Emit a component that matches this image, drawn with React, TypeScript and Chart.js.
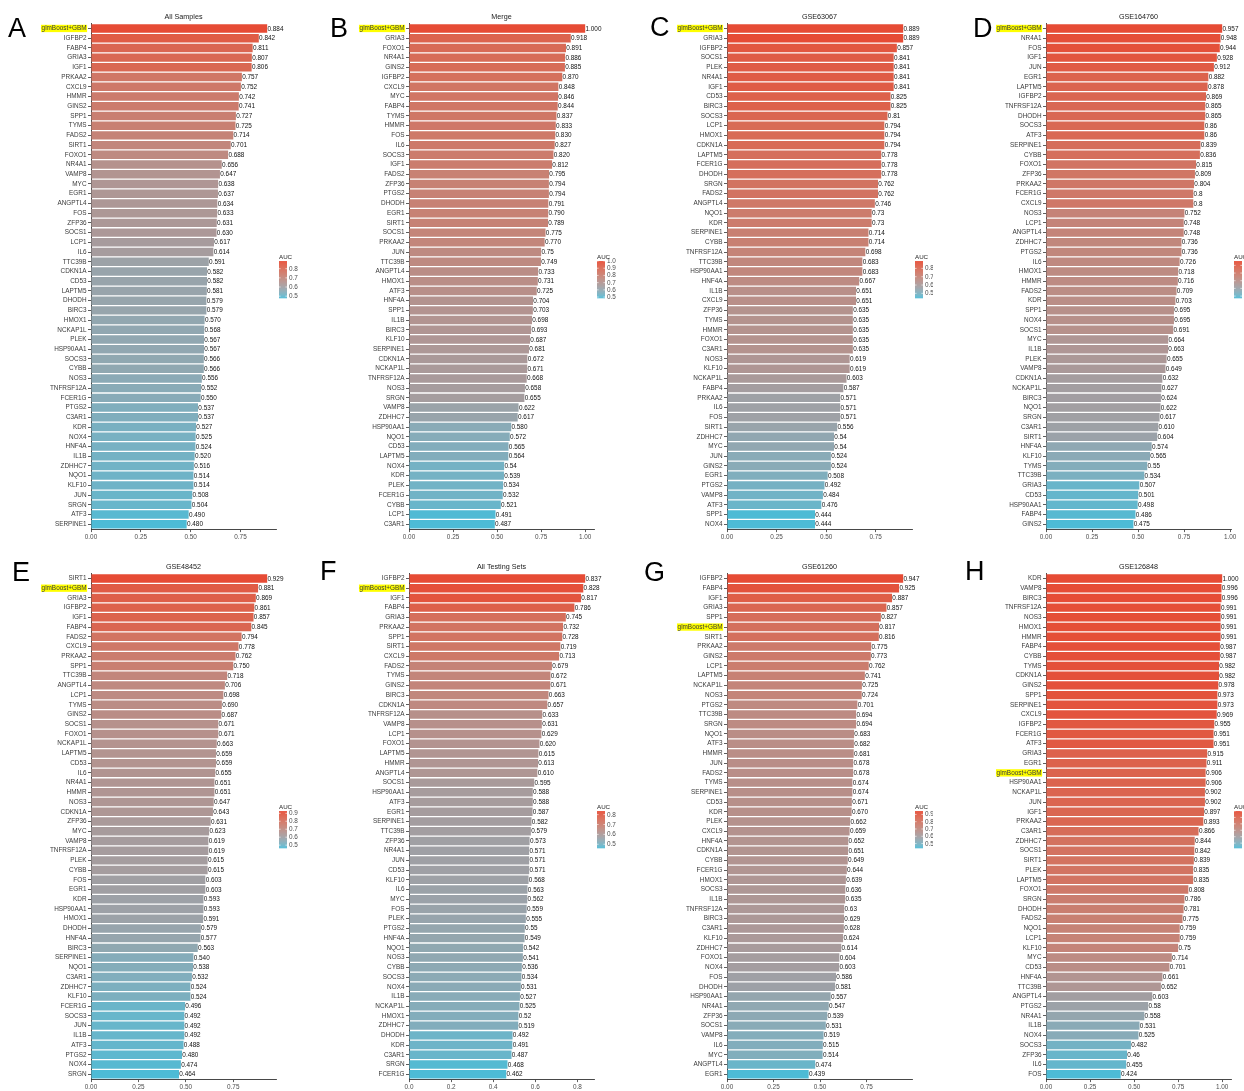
import React, { useEffect, useRef } from 'react';
import { Chart, registerables } from 'chart.js';

Chart.register(...registerables);

const FONT = "'Liberation Sans', Arial, Helvetica, sans-serif";
const HIGHLIGHT = 'glmBoost+GBM';
const LOW_COLOR = '#4DBBD5';
const HIGH_COLOR = '#E64B35';

// ---------- Panel A: All Samples ----------
const genesA = ['glmBoost+GBM','IGFBP2','FABP4','GRIA3','IGF1','PRKAA2','CXCL9','HMMR','GINS2','SPP1','TYMS','FADS2','SIRT1','FOXO1','NR4A1','VAMP8','MYC','EGR1','ANGPTL4','FOS','ZFP36','SOCS1','LCP1','IL6','TTC39B','CDKN1A','CD53','LAPTM5','DHODH','BIRC3','HMOX1','NCKAP1L','PLEK','HSP90AA1','SOCS3','CYBB','NOS3','TNFRSF12A','FCER1G','PTGS2','C3AR1','KDR','NOX4','HNF4A','IL1B','ZDHHC7','NQO1','KLF10','JUN','SRGN','ATF3','SERPINE1'];
const aucA = ['0.884','0.842','0.811','0.807','0.806','0.757','0.752','0.742','0.741','0.727','0.725','0.714','0.701','0.688','0.656','0.647','0.638','0.637','0.634','0.633','0.631','0.630','0.617','0.614','0.591','0.582','0.582','0.581','0.579','0.579','0.570','0.568','0.567','0.567','0.566','0.566','0.556','0.552','0.550','0.537','0.537','0.527','0.525','0.524','0.520','0.516','0.514','0.514','0.508','0.504','0.490','0.480'];

// ---------- Panel B: Merge ----------
const genesB = ['glmBoost+GBM','GRIA3','FOXO1','NR4A1','GINS2','IGFBP2','CXCL9','MYC','FABP4','TYMS','HMMR','FOS','IL6','SOCS3','IGF1','FADS2','ZFP36','PTGS2','DHODH','EGR1','SIRT1','SOCS1','PRKAA2','JUN','TTC39B','ANGPTL4','HMOX1','ATF3','HNF4A','SPP1','IL1B','BIRC3','KLF10','SERPINE1','CDKN1A','NCKAP1L','TNFRSF12A','NOS3','SRGN','VAMP8','ZDHHC7','HSP90AA1','NQO1','CD53','LAPTM5','NOX4','KDR','PLEK','FCER1G','CYBB','LCP1','C3AR1'];
const aucB = ['1.000','0.918','0.891','0.886','0.885','0.870','0.848','0.846','0.844','0.837','0.833','0.830','0.827','0.820','0.812','0.795','0.794','0.794','0.791','0.790','0.789','0.775','0.770','0.75','0.749','0.733','0.731','0.725','0.704','0.703','0.698','0.693','0.687','0.681','0.672','0.671','0.668','0.658','0.655','0.622','0.617','0.580','0.572','0.565','0.564','0.54','0.539','0.534','0.532','0.521','0.491','0.487'];

// ---------- Panel C: GSE63067 ----------
const genesC = ['glmBoost+GBM','GRIA3','IGFBP2','SOCS1','PLEK','NR4A1','IGF1','CD53','BIRC3','SOCS3','LCP1','HMOX1','CDKN1A','LAPTM5','FCER1G','DHODH','SRGN','FADS2','ANGPTL4','NQO1','KDR','SERPINE1','CYBB','TNFRSF12A','TTC39B','HSP90AA1','HNF4A','IL1B','CXCL9','ZFP36','TYMS','HMMR','FOXO1','C3AR1','NOS3','KLF10','NCKAP1L','FABP4','PRKAA2','IL6','FOS','SIRT1','ZDHHC7','MYC','JUN','GINS2','EGR1','PTGS2','VAMP8','ATF3','SPP1','NOX4'];
const aucC = ['0.889','0.889','0.857','0.841','0.841','0.841','0.841','0.825','0.825','0.81','0.794','0.794','0.794','0.778','0.778','0.778','0.762','0.762','0.746','0.73','0.73','0.714','0.714','0.698','0.683','0.683','0.667','0.651','0.651','0.635','0.635','0.635','0.635','0.635','0.619','0.619','0.603','0.587','0.571','0.571','0.571','0.556','0.54','0.54','0.524','0.524','0.508','0.492','0.484','0.476','0.444','0.444'];

// ---------- Panel D: GSE164760 ----------
const genesD = ['glmBoost+GBM','NR4A1','FOS','IGF1','JUN','EGR1','LAPTM5','IGFBP2','TNFRSF12A','DHODH','SOCS3','ATF3','SERPINE1','CYBB','FOXO1','ZFP36','PRKAA2','FCER1G','CXCL9','NOS3','LCP1','ANGPTL4','ZDHHC7','PTGS2','IL6','HMOX1','HMMR','FADS2','KDR','SPP1','NOX4','SOCS1','MYC','IL1B','PLEK','VAMP8','CDKN1A','NCKAP1L','BIRC3','NQO1','SRGN','C3AR1','SIRT1','HNF4A','KLF10','TYMS','TTC39B','GRIA3','CD53','HSP90AA1','FABP4','GINS2'];
const aucD = ['0.957','0.948','0.944','0.928','0.912','0.882','0.878','0.869','0.865','0.865','0.86','0.86','0.839','0.836','0.815','0.809','0.804','0.8','0.8','0.752','0.748','0.748','0.736','0.736','0.726','0.718','0.716','0.709','0.703','0.695','0.695','0.691','0.664','0.663','0.655','0.649','0.632','0.627','0.624','0.622','0.617','0.610','0.604','0.574','0.565','0.55','0.534','0.507','0.501','0.498','0.486','0.475'];

// ---------- Panel E: GSE48452 ----------
const genesE = ['SIRT1','glmBoost+GBM','GRIA3','IGFBP2','IGF1','FABP4','FADS2','CXCL9','PRKAA2','SPP1','TTC39B','ANGPTL4','LCP1','TYMS','GINS2','SOCS1','FOXO1','NCKAP1L','LAPTM5','CD53','IL6','NR4A1','HMMR','NOS3','CDKN1A','ZFP36','MYC','VAMP8','TNFRSF12A','PLEK','CYBB','FOS','EGR1','KDR','HSP90AA1','HMOX1','DHODH','HNF4A','BIRC3','SERPINE1','NQO1','C3AR1','ZDHHC7','KLF10','FCER1G','SOCS3','JUN','IL1B','ATF3','PTGS2','NOX4','SRGN'];
const aucE = ['0.929','0.881','0.869','0.861','0.857','0.845','0.794','0.778','0.762','0.750','0.718','0.706','0.698','0.690','0.687','0.671','0.671','0.663','0.659','0.659','0.655','0.651','0.651','0.647','0.643','0.631','0.623','0.619','0.619','0.615','0.615','0.603','0.603','0.593','0.593','0.591','0.579','0.577','0.563','0.540','0.538','0.532','0.524','0.524','0.496','0.492','0.492','0.492','0.488','0.480','0.474','0.464'];

// ---------- Panel F: All Testing Sets ----------
const genesF = ['IGFBP2','glmBoost+GBM','IGF1','FABP4','GRIA3','PRKAA2','SPP1','SIRT1','CXCL9','FADS2','TYMS','GINS2','BIRC3','CDKN1A','TNFRSF12A','VAMP8','LCP1','FOXO1','LAPTM5','HMMR','ANGPTL4','SOCS1','HSP90AA1','ATF3','EGR1','SERPINE1','TTC39B','ZFP36','NR4A1','JUN','CD53','KLF10','IL6','MYC','FOS','PLEK','PTGS2','HNF4A','NQO1','NOS3','CYBB','SOCS3','NOX4','IL1B','NCKAP1L','HMOX1','ZDHHC7','DHODH','KDR','C3AR1','SRGN','FCER1G'];
const aucF = ['0.837','0.828','0.817','0.786','0.745','0.732','0.728','0.719','0.713','0.679','0.672','0.671','0.663','0.657','0.633','0.631','0.629','0.620','0.615','0.613','0.610','0.595','0.588','0.588','0.587','0.582','0.579','0.573','0.571','0.571','0.571','0.568','0.563','0.562','0.559','0.555','0.55','0.549','0.542','0.541','0.536','0.534','0.531','0.527','0.525','0.52','0.519','0.492','0.491','0.487','0.468','0.462'];

// ---------- Panel G: GSE61260 ----------
const genesG = ['IGFBP2','FABP4','IGF1','GRIA3','SPP1','glmBoost+GBM','SIRT1','PRKAA2','GINS2','LCP1','LAPTM5','NCKAP1L','NOS3','PTGS2','TTC39B','SRGN','NQO1','ATF3','HMMR','JUN','FADS2','TYMS','SERPINE1','CD53','KDR','PLEK','CXCL9','HNF4A','CDKN1A','CYBB','FCER1G','HMOX1','SOCS3','IL1B','TNFRSF12A','BIRC3','C3AR1','KLF10','ZDHHC7','FOXO1','NOX4','FOS','DHODH','HSP90AA1','NR4A1','ZFP36','SOCS1','VAMP8','IL6','MYC','ANGPTL4','EGR1'];
const aucG = ['0.947','0.925','0.887','0.857','0.827','0.817','0.816','0.775','0.773','0.762','0.741','0.725','0.724','0.701','0.694','0.694','0.683','0.682','0.681','0.678','0.678','0.674','0.674','0.671','0.670','0.662','0.659','0.652','0.651','0.649','0.644','0.639','0.636','0.635','0.63','0.629','0.628','0.624','0.614','0.604','0.603','0.586','0.581','0.557','0.547','0.539','0.531','0.519','0.515','0.514','0.474','0.439'];

// ---------- Panel H: GSE126848 ----------
const genesH = ['KDR','VAMP8','BIRC3','TNFRSF12A','NOS3','HMOX1','HMMR','FABP4','CYBB','TYMS','CDKN1A','GINS2','SPP1','SERPINE1','CXCL9','IGFBP2','FCER1G','ATF3','GRIA3','EGR1','glmBoost+GBM','HSP90AA1','NCKAP1L','JUN','IGF1','PRKAA2','C3AR1','ZDHHC7','SOCS1','SIRT1','PLEK','LAPTM5','FOXO1','SRGN','DHODH','FADS2','NQO1','LCP1','KLF10','MYC','CD53','HNF4A','TTC39B','ANGPTL4','PTGS2','NR4A1','IL1B','NOX4','SOCS3','ZFP36','IL6','FOS'];
const aucH = ['1.000','0.996','0.996','0.991','0.991','0.991','0.991','0.987','0.987','0.982','0.982','0.978','0.973','0.973','0.969','0.955','0.951','0.951','0.915','0.911','0.906','0.906','0.902','0.902','0.897','0.893','0.866','0.844','0.842','0.839','0.835','0.835','0.808','0.786','0.781','0.775','0.759','0.759','0.75','0.714','0.701','0.661','0.652','0.603','0.58','0.558','0.531','0.525','0.482','0.46','0.455','0.424'];

// ---------- Axis ticks & legend breaks ----------
const xTicksQuarter = [0, 0.25, 0.5, 0.75];
const xTicksQuarterTo1 = [0, 0.25, 0.5, 0.75, 1.0];
const xTicksFifth = [0, 0.2, 0.4, 0.6, 0.8];
const legendBreaks8 = [0.5, 0.6, 0.7, 0.8];
const legendBreaks9 = [0.5, 0.6, 0.7, 0.8, 0.9];
const legendBreaks10 = [0.5, 0.6, 0.7, 0.8, 0.9, 1.0];

const titles = ['All Samples', 'Merge', 'GSE63067', 'GSE164760', 'GSE48452', 'All Testing Sets', 'GSE61260', 'GSE126848'];
const letters = ['A', 'B', 'C', 'D', 'E', 'F', 'G', 'H'];

// ---------- Colour helpers (Lab interpolation, like ggplot's gradient) ----------
function hexToRgb(h: string): number[] {
  return [parseInt(h.slice(1, 3), 16), parseInt(h.slice(3, 5), 16), parseInt(h.slice(5, 7), 16)];
}
function s2l(c: number) { c /= 255; return c <= 0.04045 ? c / 12.92 : Math.pow((c + 0.055) / 1.055, 2.4); }
function l2s(c: number) {
  const v = c <= 0.0031308 ? 12.92 * c : 1.055 * Math.pow(c, 1 / 2.4) - 0.055;
  return Math.round(Math.max(0, Math.min(1, v)) * 255);
}
function rgbToLab(rgb: number[]): number[] {
  const R = s2l(rgb[0]), G = s2l(rgb[1]), B = s2l(rgb[2]);
  const X = (0.4124564 * R + 0.3575761 * G + 0.1804375 * B) / 0.95047;
  const Y = (0.2126729 * R + 0.7151522 * G + 0.072175 * B);
  const Z = (0.0193339 * R + 0.119192 * G + 0.9503041 * B) / 1.08883;
  const f = (t: number) => (t > 0.008856 ? Math.cbrt(t) : 7.787 * t + 16 / 116);
  const fx = f(X), fy = f(Y), fz = f(Z);
  return [116 * fy - 16, 500 * (fx - fy), 200 * (fy - fz)];
}
function labToRgb(lab: number[]): number[] {
  const fy = (lab[0] + 16) / 116, fx = fy + lab[1] / 500, fz = fy - lab[2] / 200;
  const fi = (t: number) => (t * t * t > 0.008856 ? t * t * t : (t - 16 / 116) / 7.787);
  const X = fi(fx) * 0.95047, Y = fi(fy), Z = fi(fz) * 1.08883;
  const R = 3.2404542 * X - 1.5371385 * Y - 0.4985314 * Z;
  const G = -0.969266 * X + 1.8760108 * Y + 0.041556 * Z;
  const B = 0.0556434 * X - 0.2040259 * Y + 1.0572252 * Z;
  return [l2s(R), l2s(G), l2s(B)];
}
const LAB_LOW = rgbToLab(hexToRgb(LOW_COLOR));
const LAB_HIGH = rgbToLab(hexToRgb(HIGH_COLOR));
function colorAt(t: number): string {
  const tt = Math.max(0, Math.min(1, t));
  const lab = [0, 1, 2].map(i => LAB_LOW[i] + (LAB_HIGH[i] - LAB_LOW[i]) * tt);
  const c = labToRgb(lab);
  return `rgb(${c[0]},${c[1]},${c[2]})`;
}

type PanelSpec = {
  genes: string[];
  auc: string[];
  xTicks: number[];
  dec: number;
  breaks: number[];
  title: string;
  letter: string;
  left: number;
  top: number;
  width: number;
  letterX: number;
  letterY: number;
};

const PLOT_LEFT = 91;
const PLOT_RIGHT = 276;
const CANVAS_H = 550;

const panels: PanelSpec[] = [
  { genes: genesA, auc: aucA, xTicks: xTicksQuarter, dec: 2, breaks: legendBreaks8, title: titles[0], letter: letters[0], left: 0, top: 0, width: 318, letterX: 8, letterY: 36.5 },
  { genes: genesB, auc: aucB, xTicks: xTicksQuarterTo1, dec: 2, breaks: legendBreaks10, title: titles[1], letter: letters[1], left: 318, top: 0, width: 318, letterX: 12, letterY: 36.5 },
  { genes: genesC, auc: aucC, xTicks: xTicksQuarter, dec: 2, breaks: legendBreaks8, title: titles[2], letter: letters[2], left: 636, top: 0, width: 297, letterX: 14, letterY: 35.5 },
  { genes: genesD, auc: aucD, xTicks: xTicksQuarterTo1, dec: 2, breaks: legendBreaks9, title: titles[3], letter: letters[3], left: 955, top: 0, width: 289, letterX: 18, letterY: 36.5 },
  { genes: genesE, auc: aucE, xTicks: xTicksQuarter, dec: 2, breaks: legendBreaks9, title: titles[4], letter: letters[4], left: 0, top: 550, width: 318, letterX: 12, letterY: 30.5 },
  { genes: genesF, auc: aucF, xTicks: xTicksFifth, dec: 1, breaks: legendBreaks8, title: titles[5], letter: letters[5], left: 318, top: 550, width: 318, letterX: 2, letterY: 29.5 },
  { genes: genesG, auc: aucG, xTicks: xTicksQuarter, dec: 2, breaks: legendBreaks9, title: titles[6], letter: letters[6], left: 636, top: 550, width: 297, letterX: 8, letterY: 30.5 },
  { genes: genesH, auc: aucH, xTicks: xTicksQuarterTo1, dec: 2, breaks: legendBreaks10, title: titles[7], letter: letters[7], left: 955, top: 550, width: 289, letterX: 10, letterY: 29.5 },
];

function Panel({ spec }: { spec: PanelSpec }) {
  const ref = useRef<HTMLCanvasElement | null>(null);

  useEffect(() => {
    const canvas = ref.current;
    if (!canvas) return;
    const vals = spec.auc.map(s => parseFloat(s));
    const vmin = Math.min(...vals);
    const vmax = Math.max(...vals);
    const colors = vals.map(v => colorAt((v - vmin) / (vmax - vmin)));

    const extras = {
      id: 'extras' + spec.letter,
      afterDraw(chart: any) {
        const ctx = chart.ctx as CanvasRenderingContext2D;
        const ca = chart.chartArea;
        ctx.save();
        // value labels
        const meta = chart.getDatasetMeta(0);
        ctx.font = `6.4px ${FONT}`;
        ctx.fillStyle = '#111';
        ctx.textAlign = 'left';
        ctx.textBaseline = 'middle';
        meta.data.forEach((bar: any, i: number) => {
          ctx.fillText(spec.auc[i], bar.x + 0.3, bar.y + 0.3);
        });
        // title
        ctx.font = `7.2px ${FONT}`;
        ctx.fillStyle = '#1a1a1a';
        ctx.textAlign = 'center';
        ctx.fillText(spec.title, (ca.left + ca.right) / 2, 17);
        // panel letter
        ctx.font = `27px ${FONT}`;
        ctx.fillStyle = '#000';
        ctx.textAlign = 'left';
        ctx.textBaseline = 'alphabetic';
        ctx.fillText(spec.letter, spec.letterX, spec.letterY);
        // legend
        const lx = ca.right + 3;
        const ltop = 261;
        const lh = 37;
        const lw = 8;
        ctx.font = `6.2px ${FONT}`;
        ctx.fillStyle = '#1a1a1a';
        ctx.textBaseline = 'middle';
        ctx.fillText('AUC', lx, 257);
        const step = 0.5;
        for (let yy = 0; yy < lh; yy += step) {
          const t = 1 - (yy + step / 2) / lh;
          ctx.fillStyle = colorAt(t);
          ctx.fillRect(lx, ltop + yy, lw, step + 0.3);
        }
        ctx.strokeStyle = '#fff';
        ctx.lineWidth = 0.6;
        ctx.font = `6.4px ${FONT}`;
        ctx.fillStyle = '#4d4d4d';
        spec.breaks.forEach(b => {
          if (b < vmin || b > vmax + 0.001) return;
          const y = ltop + (vmax - b) / (vmax - vmin) * lh;
          ctx.beginPath();
          ctx.moveTo(lx, y); ctx.lineTo(lx + 1.6, y);
          ctx.moveTo(lx + lw - 1.6, y); ctx.lineTo(lx + lw, y);
          ctx.stroke();
          ctx.fillText(b.toFixed(1), lx + lw + 2, y + 0.3);
        });
        ctx.restore();
      },
    };

    const chart = new Chart(canvas, {
      type: 'bar',
      data: {
        labels: spec.genes,
        datasets: [{
          data: vals,
          backgroundColor: colors,
          borderWidth: 0,
          barPercentage: 0.87,
          categoryPercentage: 1,
        }],
      },
      options: {
        indexAxis: 'y',
        animation: false,
        responsive: false,
        maintainAspectRatio: false,
        devicePixelRatio: 1,
        events: [],
        layout: { padding: { top: 23.6, bottom: 4.9, left: 0, right: spec.width - PLOT_RIGHT } },
        plugins: { legend: { display: false }, tooltip: { enabled: false }, title: { display: false } },
        scales: {
          x: {
            type: 'linear',
            min: 0,
            max: vmax * 1.05,
            afterFit: (s: any) => { s.height = 16; },
            afterBuildTicks: (s: any) => { s.ticks = spec.xTicks.map(v => ({ value: v })); },
            ticks: {
              font: { family: FONT, size: 6.4 },
              color: '#4d4d4d',
              padding: 1.5,
              maxRotation: 0,
              autoSkip: false,
              callback: (v: any) => Number(v).toFixed(spec.dec),
            },
            grid: { display: true, drawOnChartArea: false, drawTicks: true, tickLength: 3, color: '#333', lineWidth: 0.8 },
            border: { display: true, color: '#333', width: 0.9 },
          },
          y: {
            type: 'category',
            offset: true,
            afterFit: (s: any) => { s.width = PLOT_LEFT; },
            ticks: {
              autoSkip: false,
              font: { family: FONT, size: 6.4, lineHeight: 1.05 },
              color: '#3a3a3a',
              padding: 1.5,
              showLabelBackdrop: (c: any) => spec.genes[c.index] === HIGHLIGHT,
              backdropColor: (c: any) => (spec.genes[c.index] === HIGHLIGHT ? '#FFFF00' : 'rgba(0,0,0,0)'),
              backdropPadding: { top: 0.3, bottom: 0.3, left: 0.6, right: 0.6 },
            } as any,
            grid: { display: true, offset: false, drawOnChartArea: false, drawTicks: true, tickLength: 3, color: '#333', lineWidth: 0.8 },
            border: { display: true, color: '#333', width: 0.9 },
          },
        },
      } as any,
      plugins: [extras],
    });
    return () => chart.destroy();
  }, [spec]);

  return (
    <canvas
      ref={ref}
      width={spec.width}
      height={CANVAS_H}
      style={{ position: 'absolute', left: spec.left, top: spec.top, width: spec.width, height: CANVAS_H }}
    />
  );
}

export default function App() {
  return (
    <div style={{ position: 'absolute', left: 0, top: 0, width: 1244, height: 1091, overflow: 'hidden', background: '#fff' }}>
      {panels.map(p => <Panel key={p.letter} spec={p} />)}
    </div>
  );
}
